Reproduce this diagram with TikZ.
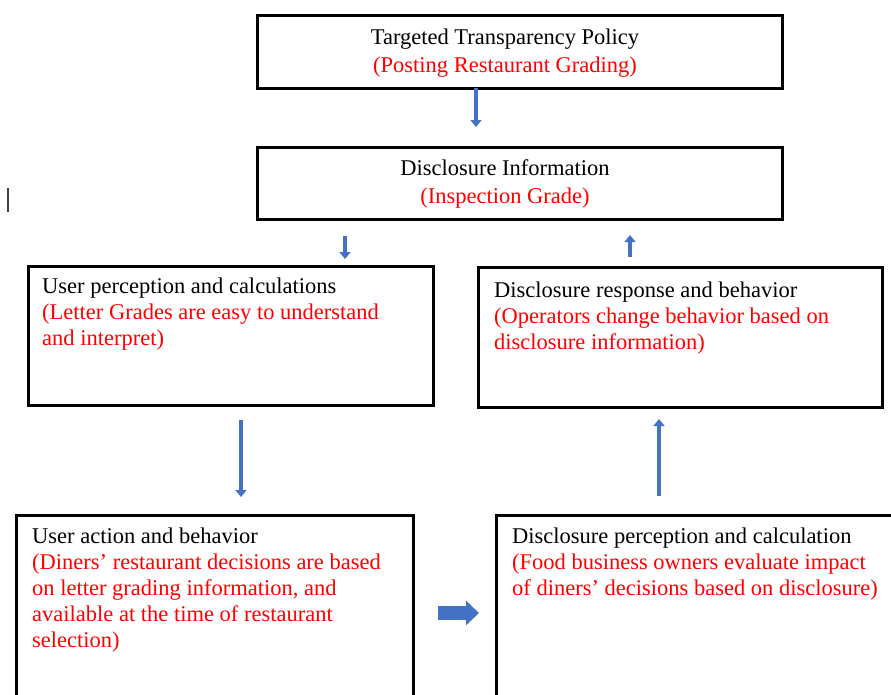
\documentclass[tikz,border=0pt]{standalone}
\usepackage{fontspec}
\setmainfont{Liberation Serif}
\usetikzlibrary{arrows.meta}
\definecolor{flowblue}{HTML}{4472C4}
\definecolor{notered}{HTML}{FF0000}

\begin{document}
\begin{tikzpicture}[x=1pt,y=-1pt,
    box/.style={draw, line width=3pt, anchor=north west, inner sep=0pt},
    label/.style={inner sep=0pt, font=\fontsize{22.5}{26}\selectfont, align=left, anchor=north west},
    flow/.style={flowblue, line width=4pt, -{Triangle[width=11pt,length=7pt]}},
    bigflow/.style={flowblue, line width=14pt, -{Triangle[width=24pt,length=13pt]}}]
    \clip (0,0) rectangle (891,694);
    \useasboundingbox (0,0) rectangle (891,694);

    % boxes
    \node[box, minimum width=525pt, minimum height=73pt] (policy) at (256,14) {};
    \node[box, minimum width=525pt, minimum height=72pt] (info) at (256,146) {};
    \node[box, minimum width=405pt, minimum height=139pt] (userperc) at (27,265) {};
    \node[box, minimum width=404pt, minimum height=140pt] (response) at (477,266) {};
    \node[box, minimum width=397pt, minimum height=200pt] (useract) at (15,514) {};
    \node[box, minimum width=410pt, minimum height=200pt] (disclperc) at (495,514) {};

    % texts
    \node[label, align=center, anchor=north] (policytxt) at (505,29)
        {Targeted Transparency Policy\\[2pt]\textcolor{notered}{(Posting Restaurant Grading)}};
    \node[label, align=center, anchor=north] (infotxt) at (505,159)
        {Disclosure Information\\[2pt]\textcolor{notered}{(Inspection Grade)}};
    \node[label] (userperctxt) at (42,278)
        {User perception and calculations\\\color{notered}(Letter Grades are easy to understand\\\color{notered}and interpret)};
    \node[label] (responsetxt) at (494,282)
        {Disclosure response and behavior\\\color{notered}(Operators change behavior based on\\\color{notered}disclosure information)};
    \node[label] (useracttxt) at (32,528)
        {User action and behavior\\\color{notered}(Diners' restaurant decisions are based\\\color{notered}on letter grading information, and\\\color{notered}available at the time of restaurant\\\color{notered}selection)};
    \node[label] (disclperctxt) at (512,528)
        {Disclosure perception and calculation\\\color{notered}(Food business owners evaluate impact\\\color{notered}of diners' decisions based on disclosure)};

    % arrow ends
    \coordinate (p1) at (476,88);   \coordinate (p2) at (476,127);
    \coordinate (q1) at (345,236);  \coordinate (q2) at (345,259);
    \coordinate (r1) at (630,257);  \coordinate (r2) at (630,235);
    \coordinate (s1) at (241,420);  \coordinate (s2) at (241,497);
    \coordinate (t1) at (659,496);  \coordinate (t2) at (659,419);
    \coordinate (u1) at (438,613);  \coordinate (u2) at (479,613);

    \draw[flow] (p1) -- (p2);
    \draw[flow] (q1) -- (q2);
    \draw[flow] (r1) -- (r2);
    \draw[flow] (s1) -- (s2);
    \draw[flow] (t1) -- (t2);
    \draw[bigflow] (u1) -- (u2);

    % stray mark at the left
    \coordinate (m1) at (8,188); \coordinate (m2) at (8,212);
    \draw[black!75, line width=1.5pt] (m1) -- (m2);
\end{tikzpicture}
\end{document}
